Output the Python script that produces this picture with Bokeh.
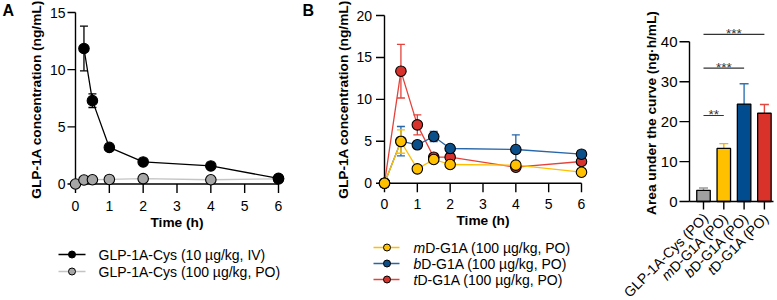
import math
from bokeh.plotting import figure
from bokeh.layouts import row
from bokeh.models import Range1d
from bokeh.core.properties import value
from bokeh.embed import file_html
from bokeh.resources import INLINE

FONT = "Liberation Sans"

# ---------------- data ----------------
# Panel A
a_iv_time = [0.25, 0.5, 1, 2, 4, 6]
a_iv_conc = [11.85, 7.29, 3.2, 1.93, 1.58, 0.49]
a_iv_sd = [1.95, 0.6, 0.2, 0.15, 0.15, 0.1]
a_po_time = [0, 0.25, 0.5, 1, 2, 4, 6]
a_po_conc = [0, 0.35, 0.37, 0.4, 0.47, 0.37, 0.45]
a_po_sd = [0, 0.05, 0.05, 0.05, 0.05, 0.05, 0.05]
a_xticks = [0, 1, 2, 3, 4, 5, 6]
a_yticks = [0, 5, 10, 15]
a_legend = ["GLP-1A-Cys (10 µg/kg, IV)", "GLP-1A-Cys (100 µg/kg, PO)"]

# Panel B
b_time = [0, 0.5, 1, 1.5, 2, 4, 6]
b_m_conc = [0, 4.97, 1.71, 2.83, 2.23, 2.15, 1.31]
b_m_sd = [0, 1.4, 0.2, 0.3, 0.3, 0.2, 0.1]
b_b_conc = [0, 5.01, 4.58, 5.57, 4.14, 4.02, 3.46]
b_b_sd = [0, 1.75, 0.4, 0.6, 0.2, 1.75, 0.2]
b_t_conc = [0, 13.36, 6.96, 3.1, 3.1, 1.91, 2.59]
b_t_sd = [0, 3.2, 1.2, 0.2, 0.3, 0.2, 0.2]
b_xticks = [0, 1, 2, 3, 4, 5, 6]
b_yticks = [0, 5, 10, 15, 20]
b_legend_prefix = ["m", "b", "t"]
b_legend_rest = ["D-G1A (100 µg/kg, PO)", "D-G1A (100 µg/kg, PO)", "D-G1A (100 µg/kg, PO)"]

# Panel C
c_pos = [1, 2, 3, 4]
c_prefix = ["", "m", "b", "t"]
c_rest = ["GLP-1A-Cys (PO)", "D-G1A (PO)", "D-G1A (PO)", "D-G1A (PO)"]
c_auc = [2.8, 13.3, 24.4, 22.1]
c_sd = [0.6, 1.2, 5.1, 2.2]
c_yticks = [0, 10, 20, 30, 40]
c_sig_from = [1, 1, 1]
c_sig_to = [2, 3, 4]
c_sig_level = [21.55, 33.4, 41.85]
c_sig_text = ["**", "***", "***"]

# ---------------- style ----------------
GREY_FILL, GREY_LINE = "#A6A6A6", "#C4C4C4"
M_FILL, M_LINE = "#FFC000", "#FFBE00"
B_FILL, B_LINE = "#0A4E8A", "#2766A8"
T_FILL, T_LINE = "#D8322C", "#E3433B"
C_FILL = ["#A0A0A0", "#FFC000", "#004C8E", "#D8322A"]
C_ERR = ["#9A9A9A", "#F5B400", "#2E74B5", "#E3473F"]
AXW = 1.4
TICK_FS = "14px"
TITLE_FS = "13.7px"
LEG_FS = 14.0

ADV = {'D': 722, '-': 333, 'G': 778, '1': 556, 'A': 667, ' ': 278, '(': 333,
       'P': 667, 'O': 778, ')': 333, '0': 556, 'µ': 577, 'g': 556, '/': 278,
       'k': 500, ',': 278, 'L': 556, 'C': 722, 'y': 500, 's': 500, 'I': 278, 'V': 667}
ADV_IT = {'m': 833, 'b': 556, 't': 278}


def text_w(s, size, table=ADV):
    return sum(table[c] for c in s) * size / 1000.0


class Panel:
    """A figure whose frame is the whole canvas; x0_px / y0_px are the page pixels of data 0."""

    def __init__(self, left, width, height, x0_px, ux, y0_px, uy):
        self.left, self.ux, self.uy = left, ux, uy
        self.xs = -(x0_px - left) / ux
        ys = -(height - y0_px) / uy
        self.ye = ys + height / uy
        self.fig = figure(width=width, height=height, title=None,
                          x_range=Range1d(self.xs, self.xs + width / ux),
                          y_range=Range1d(ys, self.ye),
                          x_axis_type=None, y_axis_type=None, min_border=0,
                          output_backend="svg", toolbar_location=None)
        self.fig.outline_line_color = None
        self.fig.background_fill_color = "white"
        self.fig.border_fill_color = "white"

    def X(self, px):
        return self.xs + (px - self.left) / self.ux

    def Y(self, py):
        return self.ye - py / self.uy


def txt(f, x, y, text, size, align="left", baseline="middle", style="normal", angle=0.0,
        xo=0.0, yo=0.0, color="black"):
    f.text(x=x, y=y, text=text, angle=angle, x_offset=xo, y_offset=yo,
           text_font=value(FONT), text_font_size=value(size), text_font_style=value(style),
           text_align=value(align), text_baseline=value(baseline), text_color=color)


def y_axis(P, ticks, axis_x, tick_len, gap, fs):
    f, n = P.fig, len(ticks)
    f.segment(x0=[axis_x], y0=[ticks[0]], x1=[axis_x], y1=[ticks[-1]],
              line_color="black", line_width=AXW)
    f.segment(x0=[axis_x] * n, y0=ticks, x1=[axis_x - tick_len / P.ux] * n, y1=ticks,
              line_color="black", line_width=AXW)
    txt(f, [axis_x] * n, ticks, [str(t) for t in ticks], fs, align="right",
        xo=-(tick_len + gap))


def x_axis(P, ticks, x_from, x_to, tick_len, lab_off, fs, labels=True):
    f, n = P.fig, len(ticks)
    f.segment(x0=[x_from], y0=[0], x1=[x_to], y1=[0], line_color="black", line_width=AXW)
    f.segment(x0=ticks, y0=[0] * n, x1=ticks, y1=[-tick_len / P.uy] * n,
              line_color="black", line_width=AXW)
    if labels:
        txt(f, ticks, [0] * n, [str(t) for t in ticks], fs, align="center", yo=lab_off)


def errbars(p, x, y, e, color, cap):
    lo = [yy - ee for yy, ee in zip(y, e)]
    hi = [yy + ee for yy, ee in zip(y, e)]
    p.segment(x0=x, y0=lo, x1=x, y1=hi, line_color=color, line_width=1.3)
    p.scatter(x=list(x) + list(x), y=lo + hi, marker="dash", size=cap,
              line_color=color, line_width=1.3)


def series(p, x, y, e, fill, line, size=10.5):
    errbars(p, x, y, e, line, 8)
    p.line(x, y, line_color=line, line_width=1.3)
    p.scatter(x, y, size=size, fill_color=fill, line_color="black", line_width=1.1)


H = 300

# ---------------- Panel A ----------------
PA = Panel(0, 290, H, 75, (278 - 75) / 6, 183.5, (183.5 - 12) / 15)
fA = PA.fig
y_axis(PA, a_yticks, 0, 8, 2, TICK_FS)
x_axis(PA, a_xticks, a_xticks[0], a_xticks[-1], 9, 21.5, TICK_FS)
txt(fA, [PA.X(36)], [PA.Y(99)], ["GLP-1A concentration (ng/mL)"], TITLE_FS,
    align="center", style="bold", angle=math.pi / 2)
txt(fA, [3], [PA.Y(221.5)], ["Time (h)"], TITLE_FS, align="center", style="bold")
txt(fA, [PA.X(2)], [PA.Y(9.5)], ["A"], "16px", style="bold")

series(fA, a_po_time, a_po_conc, a_po_sd, GREY_FILL, GREY_LINE)
series(fA, a_iv_time, a_iv_conc, a_iv_sd, "black", "black")

rowsA = [PA.Y(254), PA.Y(271)]
fA.segment(x0=[PA.X(58)] * 2, y0=rowsA, x1=[PA.X(85)] * 2, y1=rowsA,
           line_color=["black", GREY_LINE], line_width=1.3)
fA.scatter([PA.X(71.5)] * 2, rowsA, size=7, fill_color=["black", GREY_FILL],
           line_color="black", line_width=1)
txt(fA, [PA.X(98)] * 2, rowsA, a_legend, "%.1fpx" % LEG_FS)

# ---------------- Panel B ----------------
PB = Panel(290, 322, H, 384, (581 - 384) / 6, 182.7, (182.7 - 15) / 20)
fB = PB.fig
y_axis(PB, b_yticks, 0, 8.5, 4, TICK_FS)
x_axis(PB, b_xticks, b_xticks[0], b_xticks[-1], 9, 20.5, TICK_FS)
txt(fB, [PB.X(343)], [PB.Y(99)], ["GLP-1A concentration (ng/mL)"], TITLE_FS,
    align="center", style="bold", angle=math.pi / 2)
txt(fB, [3], [PB.Y(219.5)], ["Time (h)"], TITLE_FS, align="center", style="bold")
txt(fB, [PB.X(302)], [PB.Y(9.5)], ["B"], "16px", style="bold")

series(fB, b_time, b_t_conc, b_t_sd, T_FILL, T_LINE)
series(fB, b_time, b_b_conc, b_b_sd, B_FILL, B_LINE)
series(fB, b_time, b_m_conc, b_m_sd, M_FILL, M_LINE)

rowsB = [PB.Y(247), PB.Y(263), PB.Y(279)]
fB.segment(x0=[PB.X(373)] * 3, y0=rowsB, x1=[PB.X(399)] * 3, y1=rowsB,
           line_color=[M_LINE, B_LINE, T_LINE], line_width=1.3)
fB.scatter([PB.X(386.5)] * 3, rowsB, size=7, fill_color=[M_FILL, B_FILL, T_FILL],
           line_color="black", line_width=1)
tx = 413
txt(fB, [PB.X(tx)] * 3, rowsB, b_legend_prefix, "%.1fpx" % LEG_FS, style="italic")
txt(fB, [PB.X(tx + text_w(s, LEG_FS, ADV_IT)) for s in b_legend_prefix], rowsB,
    b_legend_rest, "%.1fpx" % LEG_FS)

# ---------------- Panel C ----------------
PC = Panel(612, 165, H, 703 - 20.3, 20.3, 201, (201 - 41.3) / 40)
fC = PC.fig
for i in range(len(c_pos)):
    fC.segment(x0=[c_pos[i]], y0=[c_auc[i]], x1=[c_pos[i]], y1=[c_auc[i] + c_sd[i]],
               line_color=C_ERR[i], line_width=1.4)
    fC.scatter([c_pos[i]], [c_auc[i] + c_sd[i]], marker="dash", size=9,
               line_color=C_ERR[i], line_width=1.4)
fC.vbar(x=c_pos, top=c_auc, width=0.665, fill_color=C_FILL, line_color="black", line_width=1.3)

y_axis(PC, c_yticks, PC.X(689), 10, 2, "15px")
x_axis(PC, c_pos, PC.X(689), PC.X(773), 8, 0, TICK_FS, labels=False)
txt(fC, [PC.X(650.5)], [PC.Y(112.5)], ["Area under the curve (ng·h/mL)"], TITLE_FS,
    align="center", style="bold", angle=math.pi / 2)

fC.segment(x0=c_sig_from, y0=c_sig_level, x1=c_sig_to, y1=c_sig_level,
           line_color="#333333", line_width=1.1)
txt(fC, [(a + b) / 2 for a, b in zip(c_sig_from, c_sig_to)], c_sig_level, c_sig_text,
    "13.5px", align="center", baseline="alphabetic", yo=-0.5, color="#333333")

# rotated category labels with italic prefixes
LFS = 14.0
ang = math.pi / 4
anc_y = PC.Y(215)
txt(fC, c_pos, [anc_y] * len(c_pos), c_rest, "%.1fpx" % LFS, align="right", angle=ang, xo=2)
pre_x, pre_t, pre_dx, pre_dy = [], [], [], []
for pos, pre, rest in zip(c_pos, c_prefix, c_rest):
    if pre:
        w = text_w(rest, LFS)
        pre_x.append(pos)
        pre_t.append(pre)
        pre_dx.append(2 - w * math.cos(ang))
        pre_dy.append(w * math.sin(ang))
fC.text(x=pre_x, y=[anc_y] * len(pre_x), text=pre_t, angle=ang, x_offset=pre_dx, y_offset=pre_dy,
        text_font=value(FONT), text_font_size=value("%.1fpx" % LFS), text_font_style=value("italic"),
        text_align=value("right"), text_baseline=value("middle"), text_color="black")

layout = row(fA, fB, fC)
open("out.html", "w").write(file_html(layout, INLINE))
